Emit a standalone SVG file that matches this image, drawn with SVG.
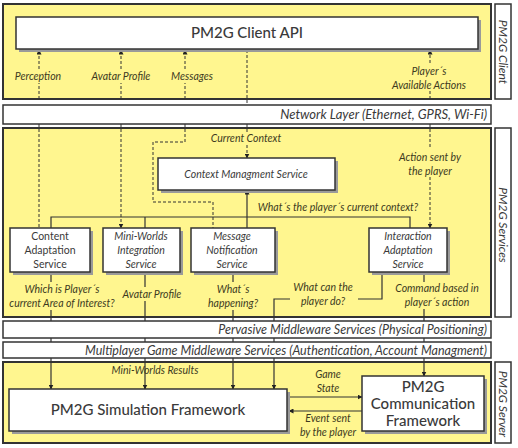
<svg xmlns="http://www.w3.org/2000/svg" width="518" height="448" viewBox="0 0 518 448">
<defs>
<marker id="ah" viewBox="0 0 10 10" refX="9" refY="5" markerWidth="5" markerHeight="5" orient="auto-start-reverse" markerUnits="userSpaceOnUse">
<path d="M0,0 L10,5 L0,10 z" fill="#222"/>
</marker>
<style>
.panel{fill:#FFF68F;stroke:#333;stroke-width:2}
.side{fill:#fff;stroke:#333;stroke-width:1.5}
.bar{fill:#fff;stroke:#333;stroke-width:1.5}
.box{fill:#fff;stroke:#333;stroke-width:1.5}
.sh{fill:#9a9a9a}
.d{fill:none;stroke:#333;stroke-width:1;stroke-dasharray:3,2}
.s{fill:none;stroke:#333;stroke-width:1.2}
text{font-family:Lato,"Open Sans","Liberation Sans",sans-serif;fill:#3a3a3a}
.lbl{font-size:10.5px;font-style:italic;text-anchor:middle;fill:#3d3a1e}
.bt{font-size:10.5px;text-anchor:middle}
.bti{font-size:10.5px;text-anchor:middle;font-style:italic}
.bar-t{font-size:13px;font-style:italic;text-anchor:end}
.sidet{font-size:12px;font-style:italic;text-anchor:middle}
.big{font-size:15px;text-anchor:middle;font-weight:500}
</style>
</defs>

<!-- background panels -->
<g id="panels">
<rect class="panel" x="3" y="4" width="488" height="95"/>
<rect class="panel" x="3" y="128" width="488" height="189"/>
<rect class="panel" x="3" y="362" width="488" height="81"/>
<rect class="side" x="495" y="4" width="16" height="95"/>
<rect class="side" x="495" y="128" width="16" height="189"/>
<rect class="side" x="495" y="362" width="16" height="81"/>
<text class="sidet" transform="translate(499,52) rotate(90)">PM2G Client</text>
<text class="sidet" transform="translate(499,225) rotate(90)">PM2G Services</text>
<text class="sidet" transform="translate(499,404) rotate(90)">PM2G Server</text>
</g>

<g id="connectors">
<!-- client panel -->
<path class="d" d="M39,99 V83 M39,69 V50" marker-end="url(#ah)"/>
<path class="d" d="M121,99 V83 M121,69 V50" marker-end="url(#ah)"/>
<path class="d" d="M185,99 V83 M185,69 V50" marker-end="url(#ah)"/>
<path class="d" d="M247,50 V105"/>
<path class="d" d="M430,99 V90 M430,63 V50" marker-end="url(#ah)"/>
<!-- services panel dashed -->
<path class="d" d="M39,124 V228"/>
<path class="d" d="M121,124 V228" marker-end="url(#ah)"/>
<path class="d" d="M185,124 V142 H153 V202 H213 V228"/>
<path class="d" d="M247,124 V132 M247,145 V158" marker-end="url(#ah)"/>
<path class="d" d="M430,124 V149 M430,177 V228" marker-end="url(#ah)"/>
<!-- services solid -->
<path class="s" d="M247,228 V190" marker-end="url(#ah)"/>
<path class="s" d="M51,228 V217 H410 V228"/>
<path class="s" d="M145,217 V228"/>
<!-- below services -->
<path class="s" d="M51,272 V282 M51,310 V321"/>
<path class="s" d="M145,272 V287 M145,301 V321"/>
<path class="s" d="M233,272 V282 M233,310 V321"/>
<path class="s" d="M382,272 V299 H358 M290,299 H274 V321"/>
<path class="s" d="M424,272 V282 M424,309 V321"/>
<path class="s" d="M51,338 V342 M145,338 V342 M233,338 V342 M274,338 V342 M424,338 V342"/>
<!-- into server -->
<path class="s" d="M51,358 V389" marker-end="url(#ah)"/>
<path class="s" d="M145,358 V389" marker-end="url(#ah)"/>
<path class="s" d="M233,358 V389" marker-end="url(#ah)"/>
<path class="s" d="M274,358 V389" marker-end="url(#ah)"/>
<path class="s" d="M424,358 V376" marker-end="url(#ah)"/>
<path class="s" d="M289,397 H362" marker-end="url(#ah)"/>
<path class="s" d="M362,411 H289" marker-end="url(#ah)"/>
</g>

<g id="labels">
<text class="lbl" x="38" y="80">Perception</text>
<text class="lbl" x="121" y="80">Avatar Profile</text>
<text class="lbl" x="192" y="80">Messages</text>
<text class="lbl" x="429" y="75">Player´s</text>
<text class="lbl" x="429" y="89">Available Actions</text>
<text class="lbl" x="246" y="142">Current Context</text>
<text class="lbl" x="430" y="161">Action sent by</text>
<text class="lbl" x="430" y="175">the player</text>
<text class="lbl" x="338" y="211">What´s the player´s current context?</text>
<text class="lbl" x="62" y="293">Which is Player´s</text>
<text class="lbl" x="62" y="307">current Area of Interest?</text>
<text class="lbl" x="152" y="298">Avatar Profile</text>
<text class="lbl" x="233" y="293">What´s</text>
<text class="lbl" x="233" y="307">happening?</text>
<text class="lbl" x="323" y="291">What can the</text>
<text class="lbl" x="323" y="305">player do?</text>
<text class="lbl" x="437" y="292">Command based in</text>
<text class="lbl" x="437" y="306">player´s action</text>
<text class="lbl" x="155" y="374">Mini-Worlds Results</text>
<text class="lbl" x="328" y="378">Game</text>
<text class="lbl" x="328" y="392">State</text>
<text class="lbl" x="328" y="422">Event sent</text>
<text class="lbl" x="328" y="436">by the player</text>
</g>

<g id="network-layer">
<rect class="bar" x="3" y="105" width="488" height="19"/>
<text class="bar-t" x="487" y="119">Network Layer (Ethernet, GPRS, Wi-Fi)</text>
</g>
<g id="pervasive-middleware">
<rect class="bar" x="3" y="321" width="488" height="17"/>
<text class="bar-t" x="487" y="334" style="font-size:12.5px">Pervasive Middleware Services (Physical Positioning)</text>
</g>
<g id="multiplayer-middleware">
<rect class="bar" x="3" y="342" width="488" height="16"/>
<text class="bar-t" x="487" y="354.5" style="font-size:12.5px">Multiplayer Game Middleware Services (Authentication, Account Managment)</text>
</g>

<g id="client-api">
<rect class="sh" x="19" y="20" width="462" height="32"/>
<rect class="box" x="16" y="17" width="462" height="32"/>
<text class="big" x="247" y="38">PM2G Client API</text>
</g>

<g id="context-management">
<rect class="sh" x="161" y="161" width="177" height="32"/>
<rect class="box" x="158" y="158" width="177" height="32"/>
<text class="bti" x="246" y="178">Context Managment Service</text>
</g>

<g id="content-adaptation">
<rect class="sh" x="13" y="231" width="80" height="44"/>
<rect class="box" x="10" y="228" width="80" height="44"/>
<text class="bt" x="50" y="240">Content</text>
<text class="bt" x="50" y="254">Adaptation</text>
<text class="bt" x="50" y="268">Service</text>
</g>

<g id="mini-worlds">
<rect class="sh" x="106" y="231" width="77" height="44"/>
<rect class="box" x="103" y="228" width="77" height="44"/>
<text class="bti" x="141" y="240">Mini-Worlds</text>
<text class="bti" x="141" y="254">Integration</text>
<text class="bti" x="141" y="268">Service</text>
</g>

<g id="message-notification">
<rect class="sh" x="194" y="231" width="84" height="44"/>
<rect class="box" x="191" y="228" width="84" height="44"/>
<text class="bti" x="232" y="240">Message</text>
<text class="bti" x="232" y="254">Notification</text>
<text class="bti" x="232" y="268">Service</text>
</g>

<g id="interaction-adaptation">
<rect class="sh" x="372" y="231" width="78" height="44"/>
<rect class="box" x="369" y="228" width="78" height="44"/>
<text class="bti" x="408" y="240">Interaction</text>
<text class="bti" x="408" y="254">Adaptation</text>
<text class="bti" x="408" y="268">Service</text>
</g>

<g id="simulation-framework">
<rect class="sh" x="12" y="392" width="278" height="42"/>
<rect class="box" x="9" y="389" width="278" height="42"/>
<text x="148" y="415" style="font-size:15px;text-anchor:middle;font-weight:500">PM2G Simulation Framework</text>
</g>

<g id="communication-framework">
<rect class="sh" x="365" y="379" width="122" height="55"/>
<rect class="box" x="362" y="376" width="122" height="55"/>
<text x="423" y="392" style="font-size:15px;text-anchor:middle;font-weight:500">PM2G</text>
<text x="423" y="409" style="font-size:15px;text-anchor:middle;font-weight:500">Communication</text>
<text x="423" y="426" style="font-size:15px;text-anchor:middle;font-weight:500">Framework</text>
</g>
</svg>
